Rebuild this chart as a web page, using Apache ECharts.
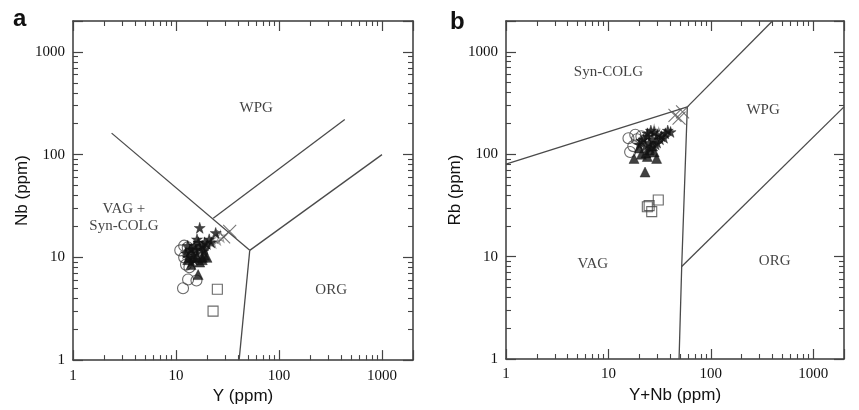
<!DOCTYPE html>
<html><head><meta charset="utf-8">
<script src="https://cdn.jsdelivr.net/npm/echarts@6/dist/echarts.min.js"></script>
<style>html,body{margin:0;padding:0;background:#fff}#c{width:859px;height:410px}</style>
</head><body><div id="c"></div>
<script>
// ---- axis range (ppm, log10) ----
const axisMin = 1;
const axisMax = 2000;

// ---- Panel a : Nb (ppm) vs Y (ppm) ----
const aCircles   = [[11,11.7],[11.7,5],[13.1,6.1],[15.8,5.95],[12,10],[12.5,8.5],[13.5,8],[14,11],[12,13],[13,12.5]];
const aStars     = [[17,19.4],[24.3,17.3],[13,10],[13.5,11.5],[14,12],[14.5,10.5],[15,13],[15.5,12],[16,11],[16.5,14],[17,12.5],[18,13],[18.5,11.5],[19,14],[20,13.5],[21,15],[14,9],[15,9.5],[13,13],[12.5,11],[16,15],[22,14],[19,12]];
const aTriangles = [[16.4,6.8],[18,10],[19,10.5],[20,10],[17,9],[15,10],[14,8.5],[16,10],[13,9.5],[18,9.5]];
const aSquares   = [[25.2,4.9],[22.9,3]];
const aCrosses   = [[33.2,17.9],[29,15.8]];
const aOpenStars = [[25,15],[22.5,14],[27,16]];
const aBoundaries = [
  [[41,1],[52,11.7]],
  [[2.37,162],[52,11.7]],
  [[52,11.7],[1000,100]],
  [[23,24],[435,220]]
];
const aFields = [['WPG',60,284],['ORG',321,4.86],['VAG +\nSyn-COLG',3.12,24.6]];

// ---- Panel b : Rb (ppm) vs Y+Nb (ppm) ----
const bCircles   = [[15.7,143],[16.3,105],[18.3,155],[19,140],[21,150],[17.5,120]];
const bStars     = [[40.5,165],[36,160],[33,150],[30,155],[28,165],[26,170],[24,150],[22,140],[25,130],[27,140],[30,130],[32,140],[23,120],[26,115],[29,125],[35,145],[20,125],[21,135],[24,160],[38,170]];
const bTriangles = [[17.8,91],[22.8,67],[29.6,91],[23.3,103],[25,110],[28,105],[21,100],[24,95],[27,120],[20,115]];
const bSquares   = [[24,30.7],[26.5,27.5],[30.7,35.7],[25,31.5]];
const bCrosses   = [[44.7,240],[53,259],[49,225]];
const bOpenStars = [[28,170],[31,160]];
const bBoundaries = [
  [[1,80],[59,290]],
  [[59,290],[400,2000]],
  [[49,1],[52,8],[59,290]],
  [[52,8],[2000,290]]
];
const bFields = [['Syn-COLG',10,635],['WPG',324,269],['VAG',7.05,8.43],['ORG',421,9.08]];

const STAR = 'path://M50,0 L61.23,34.55 L97.55,34.55 L68.16,55.9 L79.39,90.45 L50,69.1 L20.61,90.45 L31.84,55.9 L2.45,34.55 L38.77,34.55 Z';
const CROSS = 'path://M0,0 L10,10 M10,0 L0,10';

const AX = '#3a3a3a', TK = '#444';
function axis(dim, gi, pos, main, name, gap) {
  const a = {
    type: 'log', logBase: 10, gridIndex: gi, min: axisMin, max: axisMax, position: pos,
    axisLine: {show: true, onZero: false, lineStyle: {color: AX, width: 1.5}},
    axisTick: {show: true, inside: true, length: 10, lineStyle: {color: TK, width: 1.2}},
    minorTick: {show: true, splitNumber: 9, length: 5, lineStyle: {color: TK, width: 1.1}},
    splitLine: {show: false}, minorSplitLine: {show: false},
    axisLabel: {show: main, fontFamily: 'Liberation Serif', fontSize: 15, color: '#111', margin: 8,
      showMaxLabel: false, formatter: v => String(Math.round(v))}
  };
  if (main) {
    a.name = name; a.nameLocation = 'middle'; a.nameGap = gap;
    a.nameTextStyle = {fontFamily: 'Liberation Sans', fontSize: 17, color: '#111'};
  }
  return a;
}

const series = [];
function pts(gi, data, symbol, size, filled, color) {
  series.push({
    type: 'scatter', xAxisIndex: gi * 2, yAxisIndex: gi * 2, data: data, symbol: symbol, symbolSize: size,
    silent: true, z: 3,
    itemStyle: filled ? {color: color || '#111', borderColor: color || '#111', borderWidth: 0.5}
                      : {color: 'rgba(0,0,0,0)', borderColor: color || '#444', borderWidth: 1.1}
  });
}
function lines(gi, list) {
  list.forEach(seg => series.push({
    type: 'line', xAxisIndex: gi * 2, yAxisIndex: gi * 2, data: seg, showSymbol: false, silent: true,
    lineStyle: {color: '#4a4a4a', width: 1.3}, z: 2
  }));
}
function fields(gi, list) {
  series.push({
    type: 'scatter', xAxisIndex: gi * 2, yAxisIndex: gi * 2, symbolSize: 1, silent: true,
    itemStyle: {color: 'rgba(0,0,0,0)'},
    data: list.map(f => ({name: f[0], value: [f[1], f[2]]})),
    label: {show: true, position: 'inside', formatter: '{b}', fontFamily: 'Liberation Serif',
      fontSize: 15, color: '#111', lineHeight: 17, align: 'center'}
  });
}

[[0, aBoundaries, aCircles, aStars, aTriangles, aSquares, aCrosses, aOpenStars, aFields],
 [1, bBoundaries, bCircles, bStars, bTriangles, bSquares, bCrosses, bOpenStars, bFields]].forEach(p => {
  const gi = p[0];
  lines(gi, p[1]);
  pts(gi, p[2], 'circle', 11, false);
  pts(gi, p[7], STAR, 11, false, '#888');
  pts(gi, p[3], STAR, 11, true);
  pts(gi, p[4], 'triangle', 10, true);
  pts(gi, p[5], 'rect', 10, false);
  pts(gi, p[6], CROSS, 13, false, '#555');
  fields(gi, p[8]);
});

const chart = echarts.init(document.getElementById('c'), null, {renderer: 'canvas'});
chart.setOption({
  animation: false,
  backgroundColor: '#fff',
  grid: [
    {left: 73, top: 21, width: 340, height: 340},
    {left: 506, top: 21, width: 338, height: 338}
  ],
  xAxis: [
    axis('x', 0, 'bottom', true, 'Y (ppm)', 24), axis('x', 0, 'top', false),
    axis('x', 1, 'bottom', true, 'Y+Nb (ppm)', 24), axis('x', 1, 'top', false)
  ],
  yAxis: [
    axis('y', 0, 'left', true, 'Nb (ppm)', 42), axis('y', 0, 'right', false),
    axis('y', 1, 'left', true, 'Rb (ppm)', 41), axis('y', 1, 'right', false)
  ],
  graphic: [
    {type: 'text', left: 13, top: 7, style: {text: 'a', font: 'bold 24px "Liberation Sans"', fill: '#111'}},
    {type: 'text', left: 450, top: 10, style: {text: 'b', font: 'bold 24px "Liberation Sans"', fill: '#111'}}
  ],
  series: series
});
</script></body></html>
